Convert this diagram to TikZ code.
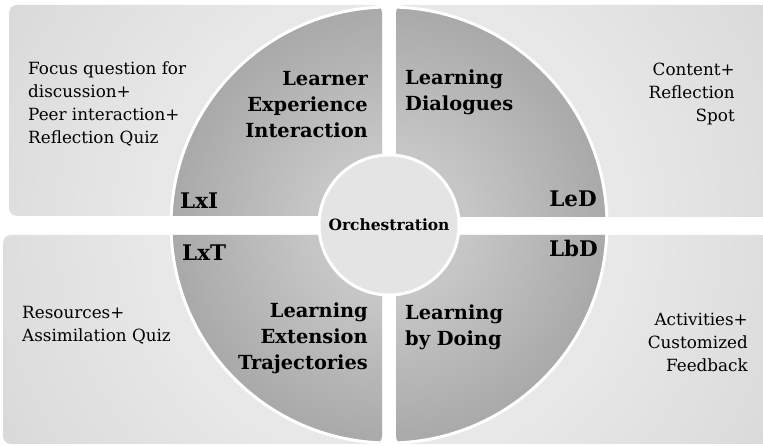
\documentclass[tikz,border=0pt]{standalone}
\usepackage{fontspec}
\setmainfont{DejaVu Serif}
\usetikzlibrary{positioning}

\definecolor{boxlight}{HTML}{E8E8E8}
\definecolor{boxdark}{HTML}{D8D8D8}
\definecolor{quadlight}{HTML}{C6C6C6}
\definecolor{quaddark}{HTML}{A9A9A9}
\definecolor{hubfill}{HTML}{E4E4E4}

\pgfdeclareradialshading{boxglow}{\pgfpoint{0bp}{0bp}}{color(0bp)=(boxlight); color(13bp)=(boxlight); color(25bp)=(boxdark); color(50bp)=(boxdark)}
\pgfdeclareradialshading{quadglow}{\pgfpoint{0bp}{0bp}}{color(0bp)=(quadlight); color(9bp)=(quadlight); color(25bp)=(quaddark); color(50bp)=(quaddark)}

\begin{document}
\begin{tikzpicture}[x=1pt, y=1pt,
    panel/.style={rounded corners=8pt},
    ring/.style={draw=white, line width=3pt},
    title/.style={font=\fontsize{19.4}{26}\selectfont\bfseries, inner sep=0pt},
    tag/.style={font=\fontsize{21.5}{25}\selectfont\bfseries, inner sep=0pt},
    body/.style={font=\fontsize{16.8}{23}\selectfont, inner sep=0pt}
]
\useasboundingbox (0,0) rectangle (763,446);
\coordinate (hub) at (389,221);

% four panels, each holding a quarter of the wheel
\foreach \bl/\tr in {{9,230}/{382,441}, {396,229}/{770,441}, {3,2}/{382,211}, {396,2}/{770,211}} {
  \begin{scope}
    \clip[panel] (\bl) rectangle (\tr);
    \shade[shading=boxglow] (hub) circle (460pt);
    \shade[shading=quadglow] (hub) circle (218pt);
    \draw[ring] (hub) circle (218pt);
  \end{scope}
}

\node[circle, ring, fill=hubfill, minimum size=140pt, inner sep=0pt,
      font=\fontsize{15.5}{18}\selectfont\bfseries] (orch) at (hub) {Orchestration};

% top left
\node[body, anchor=west, align=left] (lxinote) at (28,342) {Focus question for\\discussion+\\Peer interaction+\\Reflection Quiz};
\node[title, anchor=east, align=right] (lxi) at (368,341) {Learner\\Experience\\Interaction};
\node[tag, anchor=west] (lxitag) at (180,245) {LxI};
% top right
\node[title, anchor=west, align=left] (led) at (405,354) {Learning\\Dialogues};
\node[tag, anchor=east] (ledtag) at (597,247) {LeD};
\node[body, anchor=east, align=right] (lednote) at (735,352) {Content+\\Reflection\\Spot};
% bottom left
\node[tag, anchor=west] (lxttag) at (182,193) {LxT};
\node[title, anchor=east, align=right] (lxt) at (368,108) {Learning\\Extension\\Trajectories};
\node[body, anchor=west, align=left] (lxtnote) at (22,121) {Resources+\\Assimilation Quiz};
% bottom right
\node[tag, anchor=east] (lbdtag) at (598,198) {LbD};
\node[title, anchor=west, align=left] (lbd) at (405,119) {Learning\\by Doing};
\node[body, anchor=east, align=right] (lbdnote) at (748,104) {Activities+\\Customized\\Feedback};
\end{tikzpicture}
\end{document}
